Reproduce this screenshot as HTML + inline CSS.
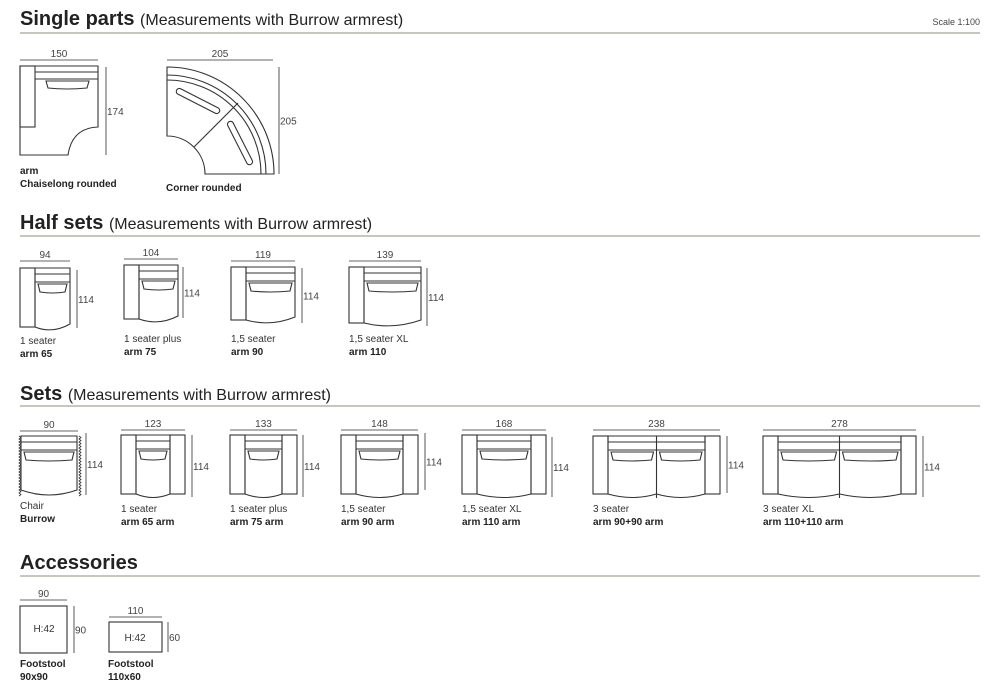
<!DOCTYPE html>
<html><head><meta charset="utf-8">
<style>
html,body{margin:0;padding:0;background:#fff;}
svg{display:block;font-family:"Liberation Sans",sans-serif;}
.h{font-weight:bold;font-size:20px;fill:#222;}
.hs{font-size:16px;fill:#222;}
.d{font-size:10px;fill:#444;}
.l{font-size:10px;fill:#333;}
.b{font-size:10px;font-weight:bold;fill:#222;}
</style></head><body>
<svg id="s" width="994" height="694" viewBox="0 0 994 694" xmlns="http://www.w3.org/2000/svg">
<g fill="none" stroke="#333" stroke-width="1.1" id="g"></g>
<text x="20" y="25" class="h">Single parts <tspan class="hs" font-weight="normal">(Measurements with Burrow armrest)</tspan></text>
<text x="980" y="25" text-anchor="end" style="font-size:9px;fill:#444">Scale 1:100</text>
<text x="20" y="229" class="h">Half sets <tspan class="hs" font-weight="normal">(Measurements with Burrow armrest)</tspan></text>
<text x="20" y="400" class="h">Sets <tspan class="hs" font-weight="normal">(Measurements with Burrow armrest)</tspan></text>
<text x="20" y="569" class="h">Accessories</text>
<line x1="20" y1="33" x2="980" y2="33" stroke="#a8a890" stroke-width="1.3"/>
<line x1="20" y1="236" x2="980" y2="236" stroke="#a8a890" stroke-width="1.3"/>
<line x1="20" y1="406" x2="980" y2="406" stroke="#a8a890" stroke-width="1.3"/>
<line x1="20" y1="576" x2="980" y2="576" stroke="#a8a890" stroke-width="1.3"/>

<text x="20" y="174" class="b">arm</text>
<text x="20" y="187" class="b">Chaiselong rounded</text>
<text x="166" y="191" class="b">Corner rounded</text>

<text x="20" y="344" class="l">1 seater</text><text x="20" y="357" class="b">arm 65</text>
<text x="124" y="342" class="l">1 seater plus</text><text x="124" y="355" class="b">arm 75</text>
<text x="231" y="342" class="l">1,5 seater</text><text x="231" y="355" class="b">arm 90</text>
<text x="349" y="342" class="l">1,5 seater XL</text><text x="349" y="355" class="b">arm 110</text>

<text x="20" y="509" class="l">Chair</text><text x="20" y="522" class="b">Burrow</text>
<text x="121" y="512" class="l">1 seater</text><text x="121" y="525" class="b">arm 65 arm</text>
<text x="230" y="512" class="l">1 seater plus</text><text x="230" y="525" class="b">arm 75 arm</text>
<text x="341" y="512" class="l">1,5 seater</text><text x="341" y="525" class="b">arm 90 arm</text>
<text x="462" y="512" class="l">1,5 seater XL</text><text x="462" y="525" class="b">arm 110 arm</text>
<text x="593" y="512" class="l">3 seater</text><text x="593" y="525" class="b">arm 90+90 arm</text>
<text x="763" y="512" class="l">3 seater XL</text><text x="763" y="525" class="b">arm 110+110 arm</text>

<text x="44" y="632" class="l" text-anchor="middle">H:42</text>
<text x="135" y="641" class="l" text-anchor="middle">H:42</text>
<text x="20" y="667" class="b">Footstool</text><text x="20" y="680" class="b">90x90</text>
<text x="108" y="667" class="b">Footstool</text><text x="108" y="680" class="b">110x60</text>
</svg>
<script>
var g=document.getElementById('g'),s=document.getElementById('s'),NS='http://www.w3.org/2000/svg';
function el(t,a,p){var e=document.createElementNS(NS,t);for(var k in a)e.setAttribute(k,a[k]);(p||g).appendChild(e);return e;}
function txt(x,y,t,anc){var e=el('text',{x:x,y:y,'class':'d','text-anchor':anc||'middle'},s);e.textContent=t;}
function hd(x1,x2,y,t){el('line',{x1:x1,y1:y,x2:x2,y2:y,stroke:'#666'});txt((x1+x2)/2,y-3,t);}
function vd(x,y1,y2,t){el('line',{x1:x,y1:y1,x2:x,y2:y2,stroke:'#666'});txt(x+1,(y1+y2)/2+4,t,'start');}
function sofa(x,y,w,h,aL,aR,n,wavy){
  var xl=x+aL,xr=x+w-aR,yb=y+h-3,sw=(xr-xl)/n;
  if(aL)el('rect',{x:x,y:y,width:aL,height:h-3});
  if(aR)el('rect',{x:xr,y:y,width:aR,height:h-3});
  var d='M'+xl+','+y+'L'+xr+','+y+'L'+xr+','+(yb-(aR?0:3));
  for(var i=n-1;i>=0;i--){var a=xl+sw*(i+1),b=xl+sw*i;d+='Q'+((a+b)/2)+','+(yb+7)+' '+b+','+(i==0&&!aL?yb-3:yb);}
  d+='Z';el('path',{d:d});
  el('line',{x1:xl,y1:y+6,x2:xr,y2:y+6});
  el('line',{x1:xl,y1:y+14,x2:xr,y2:y+14});
  for(var i=0;i<n;i++){var a=xl+sw*i;
    if(i>0)el('line',{x1:a,y1:y,x2:a,y2:yb+4});
    el('path',{d:'M'+(a+3)+','+(y+16)+'L'+(a+sw-3)+','+(y+16)+'L'+(a+sw-5)+','+(y+24)+'Q'+(a+sw/2)+','+(y+26)+' '+(a+5)+','+(y+24)+'Z'});}
  if(wavy){[x-2,x+w+2].forEach(function(wx){var p='M'+wx+','+y;for(var yy=y;yy<y+h-2;yy+=3)p+='l2,1.5l-2,1.5';el('path',{d:p,'stroke-width':0.8});});}
}
// chaiselong
el('path',{d:'M20,66L98,66L98,127Q72,128 68,155L20,155Z'});
el('rect',{x:20,y:66,width:15,height:61});
el('line',{x1:35,y1:72,x2:98,y2:72});el('line',{x1:35,y1:79,x2:98,y2:79});
el('path',{d:'M46,81L89,81L87,88Q67,90 48,88Z'});
hd(20,98,60,'150');vd(106,67,155,'174');
// corner
el('path',{d:'M167,67A107,107 0 0 1 274,174L205,174A38,38 0 0 0 167,136Z'});
el('path',{d:'M167,75A99,99 0 0 1 266,174'});
el('path',{d:'M167,80A94,94 0 0 1 261,174'});
el('line',{x1:194,y1:147,x2:238,y2:103});
el('rect',{x:-24,y:-3,width:48,height:6,rx:3,transform:'translate(198,101) rotate(27)'});
el('rect',{x:-24,y:-3,width:48,height:6,rx:3,transform:'translate(240,143) rotate(63)'});
hd(167,273,60,'205');vd(279,67,174,'205');
// half sets
sofa(20,268,50,62,15,0,1);hd(20,70,261,'94');vd(77,270,328,'114');
sofa(124,265,54,57,15,0,1);hd(124,178,259,'104');vd(183,267,318,'114');
sofa(231,267,64,56,15,0,1);hd(231,295,261,'119');vd(302,268,323,'114');
sofa(349,267,72,59,15,0,1);hd(349,421,261,'139');vd(427,268,326,'114');
// sets
sofa(21,436,56,60,0,0,1,true);hd(20,78,431,'90');vd(86,433,495,'114');
sofa(121,435,64,62,15,15,1);hd(121,185,430,'123');vd(192,435,497,'114');
sofa(230,435,67,62,15,15,1);hd(230,297,430,'133');vd(303,435,497,'114');
sofa(341,435,77,62,15,15,1);hd(341,418,430,'148');vd(425,433,490,'114');
sofa(462,435,84,62,15,15,1);hd(462,546,430,'168');vd(552,437,497,'114');
sofa(593,436,127,61,15,15,2);hd(593,720,430,'238');vd(727,436,493,'114');
sofa(763,436,153,61,15,15,2);hd(763,916,430,'278');vd(923,436,497,'114');
// accessories
el('rect',{x:20,y:606,width:47,height:47});hd(20,67,600,'90');vd(74,606,653,'90');
el('rect',{x:109,y:622,width:53,height:30});hd(109,162,617,'110');vd(168,622,652,'60');
</script>
</body></html>
